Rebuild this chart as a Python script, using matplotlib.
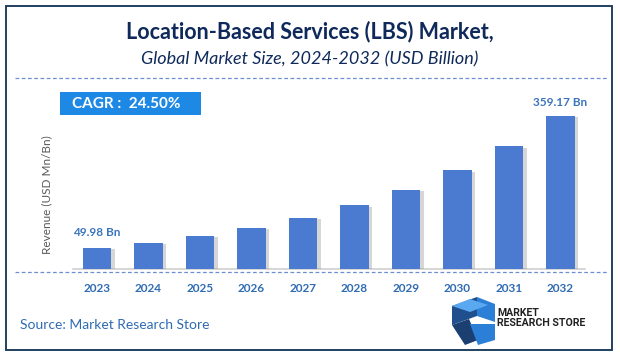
import matplotlib
matplotlib.use("Agg")
import matplotlib.pyplot as plt
import matplotlib.patheffects as pe
from matplotlib.patches import Rectangle, Polygon
from matplotlib.lines import Line2D

# Data
years = ["2023", "2024", "2025", "2026", "2027", "2028", "2029", "2030", "2031", "2032"]
revenue = [49.98, 62.2, 77.5, 96.5, 120.1, 149.5, 186.2, 231.8, 288.5, 359.17]
first_label = "49.98 Bn"
last_label = "359.17 Bn"
cagr_text = "CAGR :  24.50%"

W, H = 620, 356
BAR_COLOR = "#4a7bd0"
NAVY = "#0f2a5a"
LABEL_BLUE = "#3a74bd"

plt.rcParams["font.family"] = ["Lato", "DejaVu Sans"]

fig = plt.figure(figsize=(W / 100, H / 100), dpi=100)


def fx(px):
    return px / W


def fy(py):
    return 1 - py / H


# outer border
fig.patches.append(Rectangle((fx(6), fy(350)), fx(606), (344) / H, transform=fig.transFigure,
                             fill=False, edgecolor="#22405f", linewidth=1.4))

# titles
fig.text(0.5, fy(32), "Location-Based Services (LBS) Market,", ha="center", va="center",
         fontsize=15.5, fontweight="bold", color=NAVY)
fig.text(0.5, fy(59), "Global Market Size, 2024-2032 (USD Billion)", ha="center", va="center",
         fontsize=13, style="italic", color=NAVY)

# dashed separators
for ypx in (78, 271.5):
    fig.lines.append(Line2D([fx(15), fx(608)], [fy(ypx), fy(ypx)], transform=fig.transFigure,
                            color="#6b8fd0", linewidth=0.9, linestyle=(0, (3, 2))))

# bar axes
left, right, base, top = 73, 585, 269, 95
ax = fig.add_axes([fx(left), fy(base), (right - left) / W, (base - top) / H])
x = list(range(len(years)))
bars = ax.bar(x, revenue, width=0.56, color=BAR_COLOR, zorder=3)
for b in bars:
    b.set_path_effects([pe.SimplePatchShadow(offset=(2.5, -1), shadow_rgbFace="#8a8a8a", alpha=0.35),
                        pe.Normal()])
ax.set_xlim(-0.466, 9.476)
ax.set_ylim(0, 408.5)
ax.set_yticks([])
ax.set_xticks(x)
ax.set_xticklabels(years, fontsize=8.5, fontweight="bold", color="#2f6bb3")
ax.tick_params(axis="x", length=0, pad=10)
for s in ("top", "right", "left"):
    ax.spines[s].set_visible(False)
ax.spines["bottom"].set_color("#d0d0d0")
ax.spines["bottom"].set_linewidth(1.2)
ax.patch.set_alpha(0)

ax.annotate(first_label, (0, revenue[0]), xytext=(0, 7), textcoords="offset points",
            ha="center", va="bottom", fontsize=8.5, fontweight="bold", color=LABEL_BLUE)
ax.annotate(last_label, (9, revenue[-1]), xytext=(0, 6), textcoords="offset points",
            ha="center", va="bottom", fontsize=8.5, fontweight="bold", color=LABEL_BLUE)

# y label
fig.text(fx(47), fy(195), "Revenue (USD Mn/Bn)", rotation=90, ha="center", va="center",
         fontsize=8.5, color="#595959")

# CAGR box
fig.patches.append(Rectangle((fx(60), fy(115)), (201 - 60) / W, 23 / H, transform=fig.transFigure,
                             facecolor="#1e88e5", edgecolor="none"))
fig.text(fx(72), fy(103.5), cagr_text, ha="left", va="center", fontsize=11,
         fontweight="bold", color="white")

# source
fig.text(fx(20), fy(325), "Source: Market Research Store", ha="left", va="center",
         fontsize=10, color="#2f6bb3")

# logo (rough)
logo = [
    ([(452, 306), (477, 297), (477, 316), (452, 325)], "#1f4f8c"),
    ([(477, 297), (495, 304), (495, 322), (477, 316)], "#2b7fd6"),
    ([(452, 306), (470, 299), (488, 305), (470, 312)], "#5aa8f0"),
    ([(452, 325), (469, 319), (478, 340), (465, 345)], "#1a3f70"),
    ([(470, 324), (495, 324), (495, 340), (478, 345)], "#2b7fd6"),
]
for pts, col in logo:
    fig.patches.append(Polygon([(fx(a), fy(b)) for a, b in pts], closed=True,
                               transform=fig.transFigure, facecolor=col, edgecolor="none"))
fig.text(fx(497), fy(318), "MARKET\nRESEARCH STORE", ha="left", va="center", fontsize=7.6,
         fontweight="bold", color="#222222", linespacing=0.9, family=["Roboto", "DejaVu Sans"])

fig.savefig("out.png", dpi=100)
